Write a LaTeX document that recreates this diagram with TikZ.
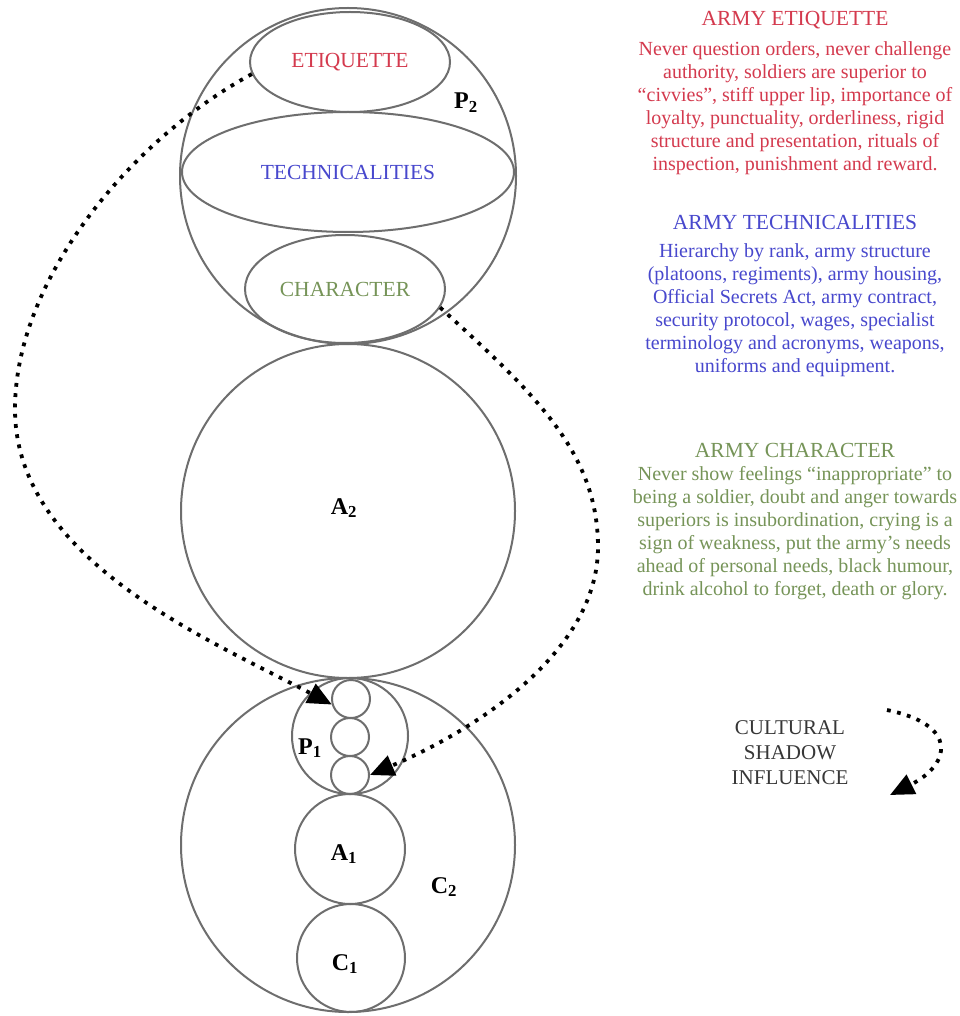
\documentclass[tikz,border=0pt]{standalone}
\usepackage{fontspec}
\setmainfont{Liberation Serif}
\usetikzlibrary{shapes.geometric,arrows.meta}
\definecolor{etq}{RGB}{212,58,78}
\definecolor{tec}{RGB}{72,72,205}
\definecolor{cha}{RGB}{118,148,88}
\definecolor{ln}{RGB}{110,110,110}
\definecolor{lg}{RGB}{55,55,55}
\newcommand\myBody{\fontsize{20}{23}\selectfont}
\newcommand\myTitle{\fontsize{21.5}{24}\selectfont}
\begin{document}
\begin{tikzpicture}[x=1pt,y=-1pt]
\tikzset{
  circ/.style={circle, draw=ln, line width=2pt, inner sep=0pt, minimum size=#1},
  ell/.style 2 args={ellipse, draw=ln, line width=2pt, inner sep=0pt, minimum width=#1, minimum height=#2, font=\myTitle},
  lab/.style={font=\fontsize{24}{26}\selectfont\bfseries, text=black, inner sep=0pt},
  ttl/.style={font=\myTitle, inner sep=0pt},
  body/.style={font=\myBody, align=center, inner sep=0pt, anchor=north},
  shadowarrow/.style={draw=black, line width=3.8pt, dash pattern=on 3.8pt off 6.5pt, -{Triangle[length=24pt,width=21pt]}}
}
\useasboundingbox (0,0) rectangle (959,1016);
\fill[white] (0,0) rectangle (959,1016);

% big circles
\node[circ=336pt] (P2) at (348,176) {};
\node[circ=334pt] (A2) at (348,511) {};
\node[circ=334pt] (C2) at (348,845) {};
% ellipses in P2
\node[ell={200pt}{100pt}, text=etq] (etqE) at (350,62) {ETIQUETTE};
\node[ell={332pt}{120pt}, text=tec] (tecE) at (348,172) {TECHNICALITIES};
\node[ell={200pt}{108pt}, text=cha] (chaE) at (345,289) {\raisebox{-6pt}{CHARACTER}};
% inner circles in C2
\node[circ=116pt] (P1) at (350,736) {};
\node[circ=38pt] (s1) at (351,699) {};
\node[circ=38pt] (s2) at (350,737) {};
\node[circ=38pt] (s3) at (350,775) {};
\node[circ=110pt] (A1) at (350,849) {};
\node[circ=108pt] (C1) at (351,958) {};

% labels
\node[lab] (lP2) at (466,103) {P\textsubscript{2}};
\node[lab] (lA2) at (344,508) {A\textsubscript{2}};
\node[lab] (lP1) at (310,748) {P\textsubscript{1}};
\node[lab] (lA1) at (344,854) {A\textsubscript{1}};
\node[lab] (lC2) at (444,887) {C\textsubscript{2}};
\node[lab] (lC1) at (345,964) {C\textsubscript{1}};

% shadow arrows
\draw[shadowarrow] (etqE.187) .. controls (130,140) and (15,280) .. (15,409)
   .. controls (15,560) and (210,640) .. (s1.196);
\draw[shadowarrow] (chaE.-11) .. controls (530,390) and (598,450) .. (598,547)
   .. controls (598,650) and (480,728) .. (s3.east);

% right texts
\node[ttl, text=etq] (t1) at (795,20) {ARMY ETIQUETTE};
\node[body, text=etq] (b1) at (795,41) {Never question orders, never challenge\\
authority, soldiers are superior to\\
“civvies”, stiff upper lip, importance of\\
loyalty, punctuality, orderliness, rigid\\
structure and presentation, rituals of\\
inspection, punishment and reward.};

\node[ttl, text=tec] (t2) at (795,222) {ARMY TECHNICALITIES};
\node[body, text=tec] (b2) at (795,243) {Hierarchy by rank, army structure\\
(platoons, regiments), army housing,\\
Official Secrets Act, army contract,\\
security protocol, wages, specialist\\
terminology and acronyms, weapons,\\
uniforms and equipment.};

\node[ttl, text=cha] (t3) at (795,450) {ARMY CHARACTER};
\node[body, text=cha] (b3) at (795,466) {Never show feelings “inappropriate” to\\
being a soldier, doubt and anger towards\\
superiors is insubordination, crying is a\\
sign of weakness, put the army’s needs\\
ahead of personal needs, black humour,\\
drink alcohol to forget, death or glory.};

% legend
\node[font=\fontsize{21}{25}\selectfont, align=center, text=lg, inner sep=0pt] (leg) at (790,753) {CULTURAL\\SHADOW\\INFLUENCE};
\coordinate (lgs) at (887,710);
\coordinate (lge) at (890,795);
\draw[shadowarrow] (lgs) .. controls (960,725) and (950,765) .. (lge);
\end{tikzpicture}
\end{document}
